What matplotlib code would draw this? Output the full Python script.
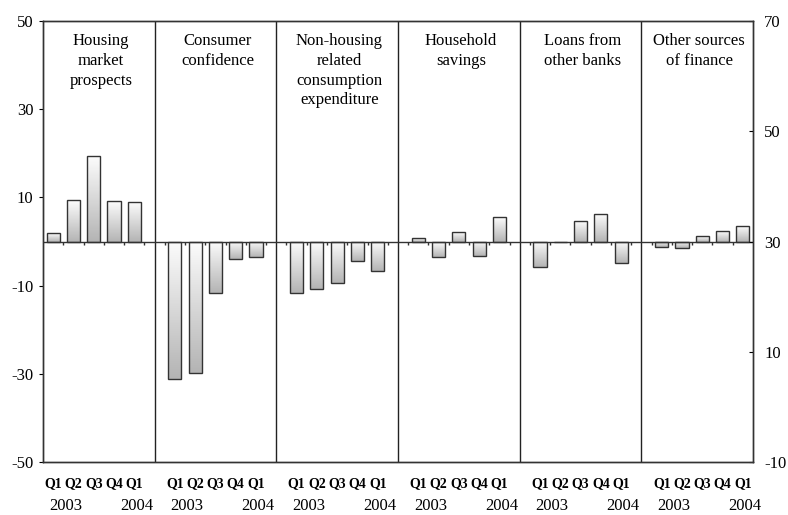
import numpy as np
import matplotlib
matplotlib.use("Agg")
import matplotlib.pyplot as plt
from matplotlib.transforms import blended_transform_factory

plt.rcParams['font.family'] = ['Liberation Serif', 'DejaVu Serif']
plt.rcParams['axes.unicode_minus'] = False

# panel titles and values
groups = ['Housing\nmarket\nprospects', 'Consumer\nconfidence',
          'Non-housing\nrelated\nconsumption\nexpenditure', 'Household\nsavings',
          'Loans from\nother banks', 'Other sources\nof finance']
quarters = ['Q1', 'Q2', 'Q3', 'Q4', 'Q1']
housing = [1.9, 9.4, 19.5, 9.2, 9.0]
confidence = [-31.2, -29.9, -11.7, -4.0, -3.5]
non_housing = [-11.7, -10.7, -9.4, -4.4, -6.8]
savings = [0.9, -3.4, 2.1, -3.3, 5.5]
other_banks = [-5.7, 0.0, 4.6, 6.2, -4.8]
other_finance = [-1.3, -1.5, 1.2, 2.4, 3.6]
series = [housing, confidence, non_housing, savings, other_banks, other_finance]

fig = plt.figure(figsize=(7.88, 5.15), dpi=100)
ax = fig.add_axes([0.0546, 0.1029, 0.901, 0.8563])

n_cat = 6 * len(groups) - 1
width = 0.65
cmap = matplotlib.colors.LinearSegmentedColormap.from_list('g', ['#b4b4b4', '#fcfcfc'])

xpos = []
for g, vals in enumerate(series):
    start = g * 6
    for i, v in enumerate(vals):
        x = start + i
        xpos.append(x)
        lo, hi = min(0, v), max(0, v)
        if hi - lo > 0.05:
            ax.imshow(np.linspace(1, 0, 100).reshape(-1, 1), cmap=cmap, aspect='auto',
                      extent=(x - width / 2, x + width / 2, lo, hi), zorder=2,
                      interpolation='bilinear')
    ax.bar(np.arange(start, start + len(vals)), vals, width=width, fill=False,
           edgecolor='#333333', linewidth=1.0, zorder=3)
    if g > 0:
        ax.axvline(start - 1, color='#222222', linewidth=1.0, zorder=1)
    # centre of the panel between dividers
    left = start - 1 if g > 0 else -0.5
    right = start + 5 if g < len(groups) - 1 else n_cat - 0.5
    ax.text((left + right) / 2 + 0.1, 47.2, groups[g], ha='center', va='top',
            fontsize=12, linespacing=1.3)

ax.axhline(0, color='#333333', linewidth=1.0, zorder=4)
bounds = np.arange(0.5, n_cat - 0.5, 1.0)
ax.vlines(bounds, -0.7, 0, color='#333333', linewidth=1.0, zorder=4)

ax.set_xlim(-0.5, n_cat - 0.5)
ax.set_ylim(-50, 50)
ax.set_yticks([50, 30, 10, -10, -30, -50])
ax.set_xticks(xpos)
ax.set_xticklabels(quarters * len(groups), fontweight='bold', fontsize=10)
ax.tick_params(axis='x', length=0, pad=11)
ax.tick_params(axis='y', direction='out', length=3, labelsize=12, pad=4)

trans = blended_transform_factory(ax.transData, ax.transAxes)
for g in range(len(groups)):
    start = g * 6
    ax.text(start + 0.6, -0.099, '2003', transform=trans, ha='center', va='center', fontsize=12)
    ax.text(start + 4.1, -0.099, '2004', transform=trans, ha='center', va='center', fontsize=12)

ax2 = ax.twinx()
ax2.set_ylim(-10, 70)
ax2.set_yticks([70, 50, 30, 10, -10])
ax2.tick_params(axis='y', direction='in', length=3, labelsize=12, pad=8)

for a in (ax, ax2):
    for s in a.spines.values():
        s.set_color('#333333')
        s.set_linewidth(1.0)

fig.savefig('out.png', dpi=100)
